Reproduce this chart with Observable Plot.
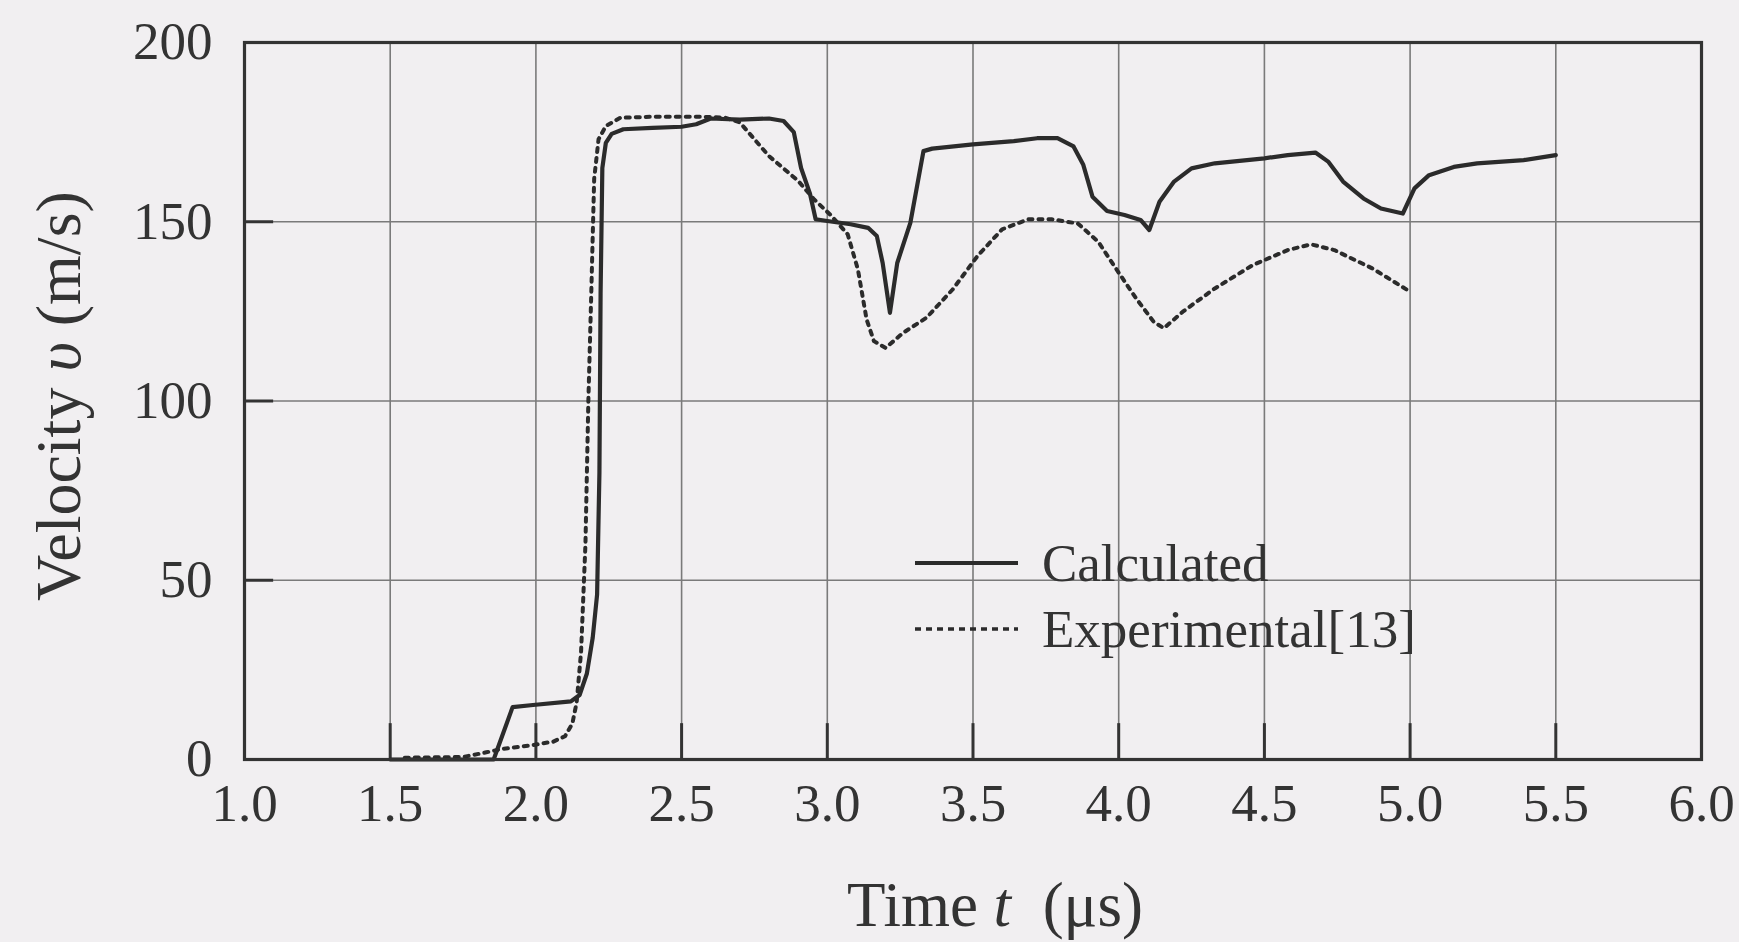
<!DOCTYPE html>
<html>
<head>
<meta charset="utf-8">
<script src="https://cdn.jsdelivr.net/npm/d3@7"></script>
<script src="https://cdn.jsdelivr.net/npm/@observablehq/plot@0.6"></script>
<style>
  html, body { margin: 0; padding: 0; background: #f1eff1; }
  #wrap { position: relative; width: 1739px; height: 942px; }
</style>
</head>
<body>
<div id="wrap"></div>
<script>
// Tick values
const xTicks = [1.0, 1.5, 2.0, 2.5, 3.0, 3.5, 4.0, 4.5, 5.0, 5.5, 6.0];
const yTicks = [0, 50, 100, 150, 200];

// Calculated series (solid)
const calcT = [1.5, 1.855, 1.92, 1.99, 2.12, 2.15, 2.175, 2.195, 2.21, 2.218, 2.222, 2.228, 2.24, 2.26, 2.3, 2.4, 2.5, 2.55, 2.6, 2.7, 2.8, 2.85, 2.885, 2.91, 2.94, 2.96, 3.0, 3.08, 3.14, 3.17, 3.19, 3.215, 3.24, 3.285, 3.33, 3.36, 3.5, 3.64, 3.72, 3.79, 3.845, 3.878, 3.91, 3.96, 4.02, 4.075, 4.105, 4.14, 4.19, 4.25, 4.33, 4.5, 4.58, 4.675, 4.72, 4.77, 4.84, 4.9, 4.975, 5.015, 5.065, 5.15, 5.23, 5.39, 5.5];
const calcV = [0, 0, 14.6, 15.2, 16.2, 18, 24, 34, 46, 80, 130, 165, 172, 174.5, 175.8, 176.2, 176.5, 177.2, 178.8, 178.5, 178.8, 178.1, 175, 165, 158, 150.7, 150.2, 149.3, 148.3, 146, 138.5, 124.6, 138.5, 149.7, 169.7, 170.4, 171.6, 172.5, 173.3, 173.3, 171, 166, 157, 153, 151.9, 150.5, 147.7, 155.6, 161.2, 164.9, 166.3, 167.7, 168.6, 169.3, 166.7, 161.2, 156.5, 153.7, 152.3, 159.3, 163, 165.3, 166.3, 167.2, 168.6];

// Experimental[13] series (dotted)
const expT = [1.55, 1.75, 1.83, 1.88, 1.98, 2.06, 2.1, 2.125, 2.14, 2.155, 2.17, 2.18, 2.19, 2.2, 2.215, 2.24, 2.29, 2.4, 2.57, 2.65, 2.7, 2.8, 2.9, 2.955, 3.01, 3.07, 3.105, 3.135, 3.16, 3.2, 3.26, 3.34, 3.43, 3.515, 3.6, 3.69, 3.77, 3.86, 3.93, 3.99, 4.06, 4.12, 4.155, 4.22, 4.33, 4.46, 4.58, 4.66, 4.74, 4.87, 5.0];
const expV = [0.5, 0.7, 2, 2.9, 3.9, 5, 6.5, 10, 16, 30, 60, 100, 130, 162, 173, 176.7, 179, 179.3, 179.3, 179, 177.7, 168.3, 161.4, 156.2, 152, 146.5, 136.7, 122.7, 116.7, 114.8, 119, 123.2, 131.1, 140.4, 147.9, 150.7, 150.7, 149.5, 144.4, 137, 128.6, 122.1, 120.3, 124.9, 131.4, 137.9, 142.1, 143.7, 142.1, 137, 130.5];

const seriesNames = ["Calculated", "Experimental[13]"];

const calc = calcT.map((t, i) => ({t, v: calcV[i]}));
const exp = expT.map((t, i) => ({t, v: expV[i]}));

const inner = xTicks.slice(1, -1);
const innerY = yTicks.slice(1, -1);
const ink = "#2b2b2b";

const chart = Plot.plot({
  width: 1739,
  height: 942,
  marginTop: 42,
  marginBottom: 183,
  marginLeft: 244,
  marginRight: 38,
  style: {background: "transparent", fontFamily: "'Liberation Serif', 'Times New Roman', serif", color: "#333"},
  x: {domain: [1, 6]},
  y: {domain: [0, 200]},
  marks: [
    Plot.gridX(inner, {stroke: "#7a7a7a", strokeOpacity: 1, strokeWidth: 1.6}),
    Plot.gridY(innerY, {stroke: "#7a7a7a", strokeOpacity: 1, strokeWidth: 1.6}),
    Plot.ruleX(inner, {y1: 0, y2: 10, stroke: "#333", strokeWidth: 3}),
    Plot.ruleY(innerY, {x1: 1, x2: 1.1, stroke: "#333", strokeWidth: 3}),
    Plot.line(exp, {x: "t", y: "v", stroke: ink, strokeWidth: 4, strokeDasharray: "4 6"}),
    Plot.line(calc, {x: "t", y: "v", stroke: ink, strokeWidth: 4.2}),
    Plot.frame({stroke: "#333", strokeWidth: 3.2}),
    Plot.axisX(xTicks, {tickSize: 0, tickPadding: 24, fontSize: 53, label: null, tickFormat: d => d.toFixed(1), fill: "#333"}),
    Plot.axisY(yTicks, {tickSize: 0, tickPadding: 32, fontSize: 53, label: null, fill: "#333"})
  ]
});

document.getElementById("wrap").appendChild(chart);

// Axis titles (real SVG text, with italic symbols)
const svg = d3.select(chart);
const fam = "'Liberation Serif', 'Times New Roman', serif";
const xt = svg.append("text")
  .attr("x", 995).attr("y", 926)
  .attr("text-anchor", "middle")
  .attr("font-family", fam).attr("font-size", 63).attr("fill", "#333")
  .style("white-space", "pre");
xt.append("tspan").text("Time ");
xt.append("tspan").attr("font-style", "italic").text("t");
xt.append("tspan").text("  (μs)");

const yt = svg.append("text")
  .attr("transform", "translate(80,396) rotate(-90)")
  .attr("text-anchor", "middle")
  .attr("font-family", fam).attr("font-size", 64).attr("fill", "#333")
  .style("white-space", "pre");
yt.append("tspan").text("Velocity ");
yt.append("tspan").attr("font-style", "italic").text("υ");
yt.append("tspan").text(" (m/s)");

// Legend
const lg = svg.append("g").attr("font-family", fam).attr("font-size", 53).attr("fill", "#333").attr("text-anchor", "start");
const legendRows = [
  {name: seriesNames[0], dash: null, y: 563},
  {name: seriesNames[1], dash: "6 5", y: 629}
];
legendRows.forEach(r => {
  const l = lg.append("line").attr("x1", 915).attr("x2", 1018).attr("y1", r.y).attr("y2", r.y)
    .attr("stroke", ink).attr("stroke-width", r.dash ? 3.5 : 4);
  if (r.dash) l.attr("stroke-dasharray", r.dash);
  lg.append("text").attr("x", 1042).attr("y", r.y).attr("dy", "0.34em").attr("text-anchor", "start").text(r.name);
});
</script>
</body>
</html>
